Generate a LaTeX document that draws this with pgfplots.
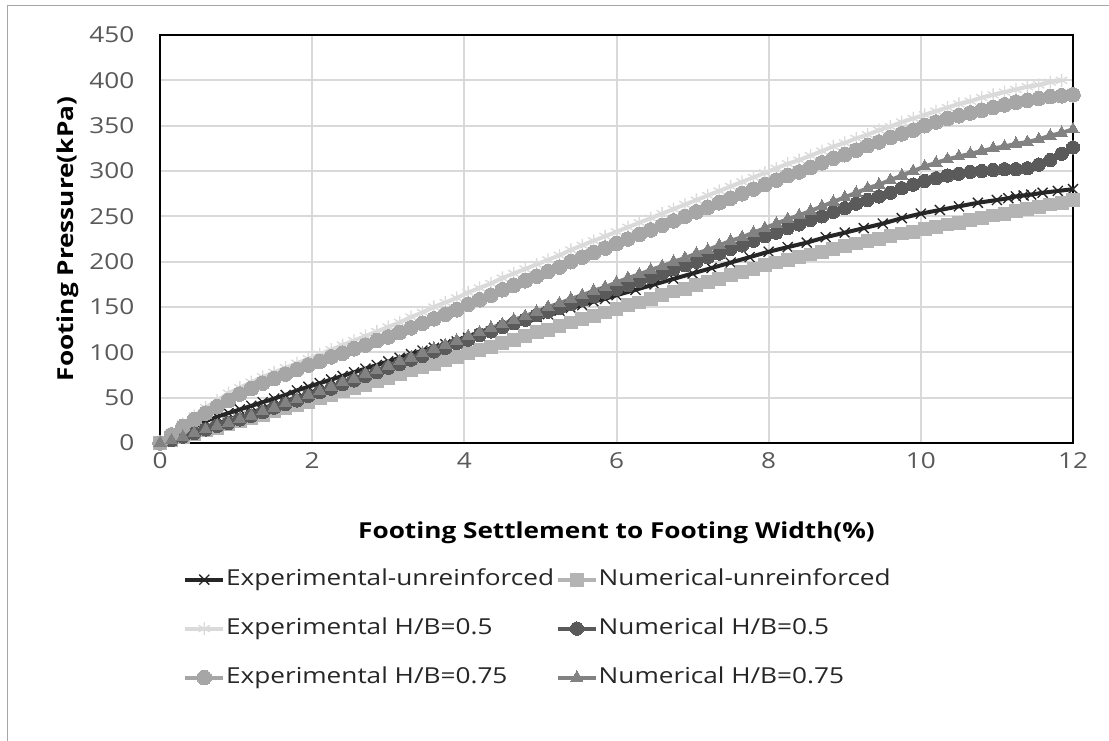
\documentclass[border=0pt]{standalone}
\usepackage{pgfplots}
\pgfplotsset{compat=1.18}
\usepackage{fontspec}
\setmainfont{Open Sans}[FakeStretch=1.19]

\definecolor{expUn}{HTML}{262626}
\definecolor{numUn}{HTML}{B4B4B4}
\definecolor{expA}{HTML}{DADADA}
\definecolor{numA}{HTML}{5A5A5A}
\definecolor{expB}{HTML}{A6A6A6}
\definecolor{numB}{HTML}{828282}
\definecolor{gridc}{HTML}{D9D9D9}
\definecolor{tickc}{HTML}{595959}
\definecolor{framec}{HTML}{A6A6A6}

\begin{document}
\begin{tikzpicture}
\useasboundingbox (0,0) rectangle (831.75pt,-555pt);
% chart area border
\draw[framec, line width=1pt] (5.6pt,-600pt) -- (5.6pt,-3.9pt) -- (900pt,-3.9pt);
\begin{axis}[
  at={(120pt,-332.25pt)}, anchor=south west,
  width=684.75pt, height=306pt, scale only axis,
  xmin=0, xmax=12, ymin=0, ymax=450,
  xtick={0,2,...,12}, ytick={0,50,...,450},
  major tick length=0pt,
  grid=major,
  major grid style={gridc, line width=1.5pt},
  axis line style={black, line width=2pt},
  /pgf/number format/assume math mode=true,
  tick label style={font=\fontsize{16.5}{20}\selectfont, text=tickc, inner sep=0pt},
  xticklabel style={anchor=center, yshift=-13.5pt},
  yticklabel style={anchor=east, xshift=-19pt},
  xlabel={\bfseries Footing Settlement to Footing Width(\%)},
  ylabel={\bfseries Footing Pressure(kPa)},
  label style={font=\fontsize{16.5}{20}\selectfont},
  xlabel style={at={(axis description cs:0.5,-0.22)}, anchor=center},
  ylabel style={at={(axis description cs:-0.1008,0.5)}, anchor=center, rotate=0},
  legend columns=2,
  legend cell align=left,
  legend image code/.code={
    \draw[mark repeat=2, mark phase=2] plot coordinates {(0pt,0pt) (14.25pt,0pt) (28.5pt,0pt)};
  },
  legend style={
    at={(axis description cs:0.0252,-0.307)}, anchor=north west,
    draw=none, fill=none, inner sep=0pt,
    font=\fontsize{16.5}{20}\selectfont, text=expUn,
    nodes={inner sep=0.6pt, text height=12pt, text depth=3.5pt},
    row sep=20pt,
    /tikz/every even column/.append style={column sep=0.8pt},
  },
]

% Experimental, unreinforced
\addplot[expUn, line width=3pt, mark=x, mark size=5.3pt,
  mark options={line width=1pt, expUn}] coordinates {
(0,0)(0.15,6)(0.3,12)(0.45,18)(0.6,24)(0.75,29)(0.9,33)(1.05,37)(1.2,41)(1.35,45)
(1.5,49)(1.65,53)(1.8,58)(1.95,62)(2.1,66)(2.25,70)(2.4,74)(2.55,78)(2.7,82)(2.85,86)
(3,90)(3.15,94)(3.3,98)(3.45,102)(3.6,105)(3.75,109)(3.9,112)(4.05,116)(4.2,120)(4.35,123)
(4.5,127)(4.65,131)(4.8,135)(4.95,139)(5.1,142)(5.25,146)(5.4,149)(5.55,152)(5.7,156)(5.85,159)
(6,163)(6.25,169)(6.5,175)(6.75,181)(7,187)(7.25,193)(7.5,199)(7.75,205)(8,211)(8.25,216)
(8.5,221)(8.75,227)(9,232)(9.25,237)(9.5,242)(9.75,248)(10,253)(10.25,257)(10.5,261)(10.75,265)
(11,268)(11.15,270)(11.25,272)(11.35,273)(11.45,274)(11.6,276)(11.8,278)(12,280)
};
\addlegendentry{Experimental-unreinforced}

% Numerical, unreinforced
\addplot[numUn, line width=3pt, mark=square*, mark size=4.8pt,
  mark options={numUn, line width=0pt}] coordinates {
(0,0)(0.15,3)(0.3,7)(0.45,10)(0.6,14)(0.75,17)(0.9,21)(1.05,24)(1.2,28)(1.35,31)
(1.5,35)(1.65,38)(1.8,42)(1.95,45)(2.1,49)(2.25,53)(2.4,57)(2.55,61)(2.7,64)(2.85,68)
(3,72)(3.15,76)(3.3,80)(3.45,84)(3.6,87)(3.75,91)(3.9,95)(4.05,99)(4.2,103)(4.35,106)
(4.5,110)(4.65,114)(4.8,118)(4.95,122)(5.1,125)(5.25,129)(5.4,133)(5.55,137)(5.7,140)(5.85,144)
(6,148)(6.15,152)(6.3,155)(6.45,159)(6.6,163)(6.75,167)(6.9,170)(7.05,174)(7.2,178)(7.35,181)
(7.5,185)(7.65,189)(7.8,192)(7.95,196)(8.1,199)(8.25,202)(8.4,205)(8.55,208)(8.7,211)(8.85,214)
(9,217)(9.15,220)(9.3,223)(9.45,225)(9.6,228)(9.75,231)(9.9,233)(10.05,236)(10.2,238)(10.35,241)
(10.5,243)(10.65,246)(10.8,248)(10.95,251)(11.1,253)(11.25,256)(11.4,258)(11.55,260)(11.7,263)(11.85,265)
(12,268)
};
\addlegendentry{Numerical-unreinforced}

% Experimental, H/B = 0.5
\addplot[expA, line width=3pt, mark=asterisk, mark size=4.9pt,
  mark options={expA, line width=1pt}] coordinates {
(0,0)(0.15,11)(0.3,21)(0.45,30)(0.6,39)(0.75,47)(0.9,55)(1.05,61)(1.2,67)(1.35,73)
(1.5,78)(1.65,83)(1.8,88)(1.95,93)(2.1,98)(2.25,103)(2.4,108)(2.55,113)(2.7,118)(2.85,123)
(3,128)(3.15,133)(3.3,139)(3.45,144)(3.6,150)(3.75,155)(3.9,160)(4.05,166)(4.2,171)(4.35,176)
(4.5,182)(4.65,187)(4.8,192)(4.95,197)(5.1,202)(5.25,207)(5.4,213)(5.55,218)(5.7,223)(5.85,228)
(6,233)(6.15,238)(6.3,243)(6.45,248)(6.6,253)(6.75,258)(6.9,263)(7.05,268)(7.2,273)(7.35,278)
(7.5,283)(7.65,288)(7.8,293)(7.95,298)(8.1,303)(8.25,308)(8.4,312)(8.55,317)(8.7,322)(8.85,327)
(9,331)(9.15,336)(9.3,340)(9.45,345)(9.6,349)(9.75,354)(9.9,358)(10.05,362)(10.2,366)(10.35,370)
(10.5,374)(10.65,377)(10.8,381)(10.95,384)(11.1,387)(11.25,390)(11.4,393)(11.55,395)(11.7,398)(11.85,400)
};
\addlegendentry{Experimental H/B=0.5}

% Numerical, H/B = 0.5
\addplot[numA, line width=3pt, mark=*, mark size=5pt,
  mark options={numA, line width=0pt}] coordinates {
(0,0)(0.15,3)(0.3,7)(0.45,11)(0.6,15)(0.75,19)(0.9,22)(1.05,26)(1.2,30)(1.35,34)
(1.5,39)(1.65,43)(1.8,47)(1.95,52)(2.1,56)(2.25,60)(2.4,65)(2.55,69)(2.7,74)(2.85,78)
(3,83)(3.15,87)(3.3,92)(3.45,96)(3.6,101)(3.75,105)(3.9,110)(4.05,114)(4.2,119)(4.35,123)
(4.5,128)(4.65,132)(4.8,136)(4.95,141)(5.1,145)(5.25,149)(5.4,153)(5.55,158)(5.7,162)(5.85,166)
(6,170)(6.15,174)(6.3,179)(6.45,183)(6.6,187)(6.75,192)(6.9,196)(7.05,200)(7.2,205)(7.35,209)
(7.5,214)(7.65,218)(7.8,223)(7.95,228)(8.1,232)(8.25,237)(8.4,241)(8.55,246)(8.7,250)(8.85,255)
(9,259)(9.15,264)(9.3,268)(9.45,272)(9.6,276)(9.75,281)(9.9,285)(10.05,289)(10.2,292)(10.35,295)
(10.5,297)(10.65,299)(10.8,300)(10.95,301)(11.1,302)(11.25,302)(11.4,303)(11.55,307)(11.7,312)(11.85,319)
(12,326)
};
\addlegendentry{Numerical H/B=0.5}

% Experimental, H/B = 0.75
\addplot[expB, line width=3pt, mark=*, mark size=5.5pt,
  mark options={expB, line width=0pt}] coordinates {
(0,0)(0.15,9)(0.3,18)(0.45,26)(0.6,33)(0.75,40)(0.9,47)(1.05,54)(1.2,60)(1.35,66)
(1.5,71)(1.65,76)(1.8,81)(1.95,86)(2.1,90)(2.25,95)(2.4,99)(2.55,104)(2.7,108)(2.85,113)
(3,117)(3.15,122)(3.3,127)(3.45,132)(3.6,137)(3.75,142)(3.9,147)(4.05,153)(4.2,158)(4.35,163)
(4.5,169)(4.65,174)(4.8,179)(4.95,184)(5.1,189)(5.25,194)(5.4,200)(5.55,205)(5.7,210)(5.85,215)
(6,220)(6.15,225)(6.3,230)(6.45,235)(6.6,240)(6.75,245)(6.9,250)(7.05,255)(7.2,260)(7.35,265)
(7.5,270)(7.65,275)(7.8,280)(7.95,285)(8.1,290)(8.25,295)(8.4,299)(8.55,304)(8.7,309)(8.85,314)
(9,318)(9.15,323)(9.3,328)(9.45,332)(9.6,337)(9.75,341)(9.9,345)(10.05,350)(10.2,354)(10.35,358)
(10.5,361)(10.65,364)(10.8,367)(10.95,370)(11.1,373)(11.25,376)(11.4,378)(11.55,380)(11.7,382)(11.85,383)
(12,384)
};
\addlegendentry{Experimental H/B=0.75}

% Numerical, H/B = 0.75
\addplot[numB, line width=3pt, mark=triangle*, mark size=5.2pt,
  mark options={numB, line width=0pt}] coordinates {
(0,0)(0.15,3)(0.3,7)(0.45,11)(0.6,15)(0.75,19)(0.9,22)(1.05,26)(1.2,30)(1.35,35)
(1.5,39)(1.65,44)(1.8,48)(1.95,53)(2.1,57)(2.25,62)(2.4,67)(2.55,71)(2.7,76)(2.85,80)
(3,85)(3.15,90)(3.3,94)(3.45,99)(3.6,104)(3.75,108)(3.9,113)(4.05,118)(4.2,122)(4.35,127)
(4.5,131)(4.65,136)(4.8,140)(4.95,145)(5.1,150)(5.25,154)(5.4,159)(5.55,163)(5.7,168)(5.85,172)
(6,177)(6.15,182)(6.3,186)(6.45,191)(6.6,195)(6.75,200)(6.9,204)(7.05,209)(7.2,213)(7.35,218)
(7.5,223)(7.65,227)(7.8,232)(7.95,237)(8.1,242)(8.25,247)(8.4,251)(8.55,256)(8.7,261)(8.85,266)
(9,271)(9.15,276)(9.3,281)(9.45,285)(9.6,290)(9.75,295)(9.9,300)(10.05,305)(10.2,309)(10.35,313)
(10.5,316)(10.65,319)(10.8,322)(10.95,325)(11.1,327)(11.25,330)(11.4,332)(11.55,335)(11.7,339)(11.85,342)
(12,346)
};
\addlegendentry{Numerical H/B=0.75}

\end{axis}
\end{tikzpicture}
\end{document}
